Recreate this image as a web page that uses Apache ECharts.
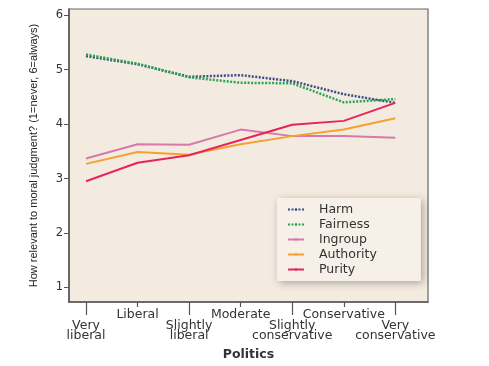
<!DOCTYPE html>
<html>
<head>
<meta charset="utf-8">
<script src="https://cdn.jsdelivr.net/npm/echarts@6/dist/echarts.min.js"></script>
<style>html,body{margin:0;padding:0;background:#fff;}#c{width:489px;height:366px;}</style>
</head>
<body>
<div id="c"></div>
<script>
var categories = ['Very\nliberal', 'Liberal', 'Slightly\nliberal', 'Moderate', 'Slightly\nconservative', 'Conservative', 'Very\nconservative'];
var harm      = [5.25, 5.10, 4.87, 4.90, 4.79, 4.55, 4.39];
var fairness  = [5.28, 5.11, 4.86, 4.76, 4.75, 4.40, 4.46];
var ingroup   = [3.37, 3.63, 3.62, 3.90, 3.78, 3.78, 3.75];
var authority = [3.27, 3.49, 3.44, 3.63, 3.78, 3.90, 4.11];
var purity    = [2.95, 3.29, 3.43, 3.71, 3.99, 4.06, 4.39];
var yTicks = [1, 2, 3, 4, 5, 6];

function pts(arr) { return arr.map(function (v, i) { return [i, v]; }); }
function catLabel(v) { return categories[Math.round(v)]; }
var evenIdx = [0, 2, 4, 6], oddIdx = [1, 3, 5];
var font = 'DejaVu Sans';

var chart = echarts.init(document.getElementById('c'), null, {renderer: 'canvas'});
chart.setOption({
  backgroundColor: '#ffffff',
  animation: false,
  grid: {left: 69, right: 61, top: 9, bottom: 61, show: true, backgroundColor: '#f4ebe0', borderColor: '#666', borderWidth: 1.2},
  xAxis: [{
    type: 'value', min: -0.33, max: 6.634, position: 'bottom',
    splitLine: {show: false},
    axisLine: {show: true, onZero: false, lineStyle: {color: '#555', width: 1.5}},
    axisTick: {show: true, customValues: evenIdx, length: 13, lineStyle: {color: '#555', width: 1.2}},
    axisLabel: {customValues: evenIdx, margin: 19, color: '#333', fontFamily: font, fontSize: 12.5, lineHeight: 10, formatter: catLabel},
    name: 'Politics', nameLocation: 'middle', nameGap: 46,
    nameTextStyle: {fontFamily: font, fontWeight: 'bold', fontSize: 12.5, color: '#333'}
  }, {
    type: 'value', min: -0.33, max: 6.634, position: 'bottom', gridIndex: 0,
    splitLine: {show: false},
    axisLine: {show: false, onZero: false},
    axisTick: {show: true, customValues: oddIdx, length: 5, lineStyle: {color: '#555', width: 1.2}},
    axisLabel: {customValues: oddIdx, margin: 6, color: '#333', fontFamily: font, fontSize: 12.5, formatter: catLabel}
  }],
  yAxis: {
    type: 'value', min: 0.733, max: 6.115,
    splitLine: {show: false},
    axisLine: {show: true, onZero: false, lineStyle: {color: '#555', width: 1.5}},
    axisTick: {show: true, customValues: yTicks, length: 5, lineStyle: {color: '#555'}},
    axisLabel: {customValues: yTicks, margin: 6, color: '#333', fontFamily: font, fontSize: 11.5},
    name: 'How relevant to moral judgment? (1=never, 6=always)', nameLocation: 'middle', nameGap: 30, nameRotate: 90,
    nameTextStyle: {fontFamily: '"Liberation Sans Narrow", "Liberation Sans", sans-serif', fontSize: 11, color: '#222'}
  },
  legend: {
    orient: 'vertical', left: 277, top: 198, itemGap: 2, itemWidth: 16, itemHeight: 3,
    padding: [5, 44, 5, 10],
    backgroundColor: '#f6f0e8', shadowColor: 'rgba(0,0,0,0.3)', shadowBlur: 8, shadowOffsetX: 2, shadowOffsetY: 2,
    textStyle: {fontFamily: font, fontSize: 12.5, color: '#333', padding: [0, 0, 0, 10]},
    data: ['Harm', 'Fairness', 'Ingroup', 'Authority', 'Purity']
  },
  series: [
    {name: 'Harm', type: 'line', data: pts(harm), symbol: 'none', color: '#3b4b8c', lineStyle: {width: 2.5, type: [2, 1.5], color: '#3b4b8c'}},
    {name: 'Fairness', type: 'line', data: pts(fairness), symbol: 'none', color: '#2aa64e', lineStyle: {width: 2.5, type: [2, 1.5], color: '#2aa64e'}},
    {name: 'Ingroup', type: 'line', data: pts(ingroup), symbol: 'none', color: '#d77aa9', lineStyle: {width: 2, color: '#d77aa9'}},
    {name: 'Authority', type: 'line', data: pts(authority), symbol: 'none', color: '#f5a030', lineStyle: {width: 2, color: '#f5a030'}},
    {name: 'Purity', type: 'line', data: pts(purity), symbol: 'none', color: '#e6245a', lineStyle: {width: 2, color: '#e6245a'}}
  ]
});
</script>
</body>
</html>
